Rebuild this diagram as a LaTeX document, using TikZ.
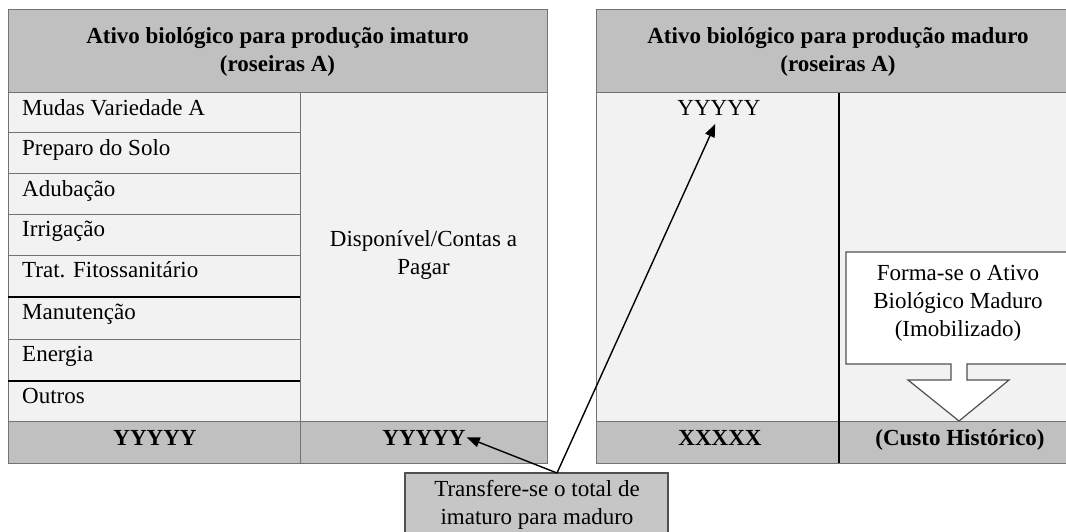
\documentclass[tikz,border=0pt]{standalone}
\usepackage{fontspec}
\setmainfont{Liberation Serif}
\usetikzlibrary{arrows.meta}
\definecolor{cabeca}{RGB}{192,192,192}
\definecolor{corpo}{RGB}{242,242,242}
\definecolor{caixa}{RGB}{198,198,198}
\definecolor{borda}{RGB}{115,115,115}
\tikzset{
  cell/.style={draw=borda, line width=1pt},
  txt/.style={font=\fontsize{23}{28}\selectfont, inner sep=0pt},
  tit/.style={font=\fontsize{23}{28}\selectfont\bfseries, inner sep=0pt, align=center},
  seta/.style={-{Triangle[length=13pt,width=10pt]}, line width=1.4pt},
}
\begin{document}
\begin{tikzpicture}[x=1pt,y=-1pt]
    \useasboundingbox (0,0) rectangle (1066,532);
    \clip (0,0) rectangle (1066,532);
    % imaturo
    \fill[corpo] (8,93) rectangle (547,421);
    \fill[cabeca] (8,10) rectangle (547,93);
    \fill[cabeca] (8,421) rectangle (547,463);
    \draw[cell] (8,10) rectangle (547,463);
    \draw[cell] (8,93) -- (547,93);
    \draw[cell] (8,421) -- (547,421);
    \draw[cell] (300,93) -- (300,463);
    \foreach \y in {133,174,214,255,339}
    \draw[cell] (8,\y) -- (300,\y);
    \foreach \y in {297,381}
    \draw[line width=1.2pt] (8,\y) -- (300,\y);
    \node[tit] (titA) at (277.5,52) {Ativo biológico para produção imaturo\\(roseiras A)};
    \foreach \t/\y [count=\i] in {Mudas Variedade A/93, Preparo do Solo/133, Adubação/174,
        Irrigação/214, Trat. Fitossanitário/255, Manutenção/297, Energia/339, Outros/381}
    \node[txt, anchor=base west] (lin\i) at (22,\y+22.5) {\t};
    \node[txt, align=center] (contas) at (423.5,255) {Disponível/Contas a\\Pagar};
    \node[tit, anchor=base] (somaA) at (155,445) {YYYYY};
    \node[tit, anchor=base] (somaB) at (424,445) {YYYYY};
    % maduro
    \fill[corpo] (596,93) rectangle (1080,421);
    \fill[cabeca] (596,10) rectangle (1080,93);
    \fill[cabeca] (596,421) rectangle (1080,463);
    \draw[cell] (596,10) rectangle (1080,463);
    \draw[cell] (596,93) -- (1080,93);
    \draw[cell] (596,421) -- (1080,421);
    \draw[line width=1.2pt] (839,93) -- (839,463);
    \node[tit] (titB) at (838,52) {Ativo biológico para produção maduro\\(roseiras A)};
    \node[txt] (yy) at (719,108) {YYYYY};
    \node[tit, anchor=base] (somaC) at (720,445) {XXXXX};
    \node[tit, anchor=base] (custo) at (960,445) {(Custo Histórico)};
    % seta de formacao
    \draw[draw=borda!70!black, fill=white, line width=1.2pt]
        (846,252) -- (1072,252) -- (1072,364) -- (967,364) -- (967,380) -- (1009,380)
        -- (959,421) -- (908,380) -- (951,380) -- (951,364) -- (846,364) -- cycle;
    \node[txt, align=center] (forma) at (958,303) {Forma-se o Ativo\\Biológico Maduro\\(Imobilizado)};
    % transferencia
    \draw[fill=caixa, draw=borda!70!black, line width=1.2pt] (405,473) rectangle (668,560);
    \node[txt, align=center] (transf) at (537,505) {Transfere-se o total de\\imaturo para maduro};
    \coordinate (saida) at (557,473);
    \draw[seta] (saida) -- ([xshift=1pt]somaB.east);
    \draw[seta, shorten >=9pt] (saida) -- (yy.south);
\end{tikzpicture}
\end{document}
